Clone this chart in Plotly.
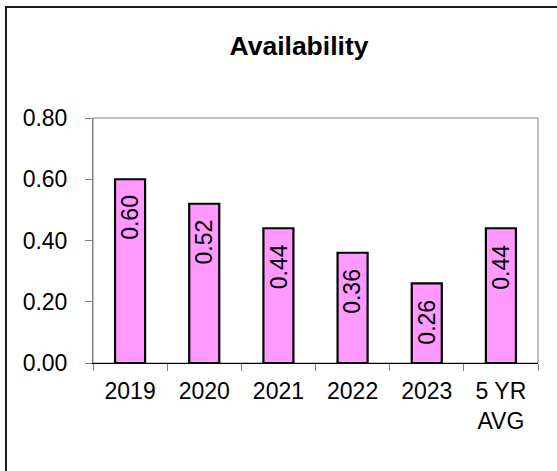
import plotly.graph_objects as go

categories = ["2019", "2020", "2021", "2022", "2023", "5 YR<br>AVG"]
values = [0.60, 0.52, 0.44, 0.36, 0.26, 0.44]
labels = ["0.60", "0.52", "0.44", "0.36", "0.26", "0.44"]
y_ticks = [0, 0.2, 0.4, 0.6, 0.8]
y_ticklabels = ["0.00", "0.20", "0.40", "0.60", "0.80"]

W, H = 557, 471
ml, mr, mt, mb = 93, 19, 118, 108
pw, ph = W - ml - mr, H - mt - mb
FONT = "Arial, Liberation Sans"

fig = go.Figure()
fig.add_trace(go.Bar(
    x=categories, y=values,
    marker=dict(color="#FF99FF", line=dict(color="black", width=2.2)),
    width=0.405,
    hoverinfo="skip",
))

for i, (v, t) in enumerate(zip(values, labels)):
    fig.add_annotation(
        x=i, y=v, text=t, textangle=-90, showarrow=False,
        yanchor="top", xanchor="center", yshift=-14,
        font=dict(family=FONT, size=23, color="black"),
    )

# plot area border (gray)
fig.add_shape(type="rect", xref="x domain", yref="y domain",
              x0=0, x1=1, y0=0, y1=1,
              line=dict(color="#808080", width=1), layer="below")
# outer chart border
fig.add_shape(type="rect", xref="paper", yref="paper",
              x0=(6 - ml) / pw, x1=(W + 10 - ml) / pw,
              y0=-(H + 10 - mt - ph) / ph, y1=(H - 7 - mb) / ph,
              line=dict(color="#1a1a1a", width=2))

fig.update_layout(
    width=W, height=H,
    margin=dict(l=ml, r=mr, t=mt, b=mb),
    paper_bgcolor="white", plot_bgcolor="white",
    showlegend=False,
    font=dict(family=FONT, size=23, color="black"),
    title=dict(text="<b>Availability</b>", x=299 / W, xanchor="center",
               y=1 - 46 / H, yanchor="middle",
               font=dict(family=FONT, size=26.5, color="black")),
    xaxis=dict(
        type="category", range=[-0.5, len(categories) - 0.5],
        showline=True, linecolor="black", linewidth=1,
        ticks="outside", tickson="boundaries", ticklen=7, tickcolor="#808080",
        showgrid=False, zeroline=False, tickfont=dict(size=23), tickangle=0,
        ticklabelstandoff=7,
    ),
    yaxis=dict(
        range=[0, 0.8], tickvals=y_ticks, ticktext=y_ticklabels,
        showline=True, linecolor="#808080", linewidth=1,
        ticks="outside", ticklen=7, tickcolor="#808080",
        showgrid=False, zeroline=False, tickfont=dict(size=23),
        ticklabelstandoff=13,
    ),
)

fig.write_html("out.html")
